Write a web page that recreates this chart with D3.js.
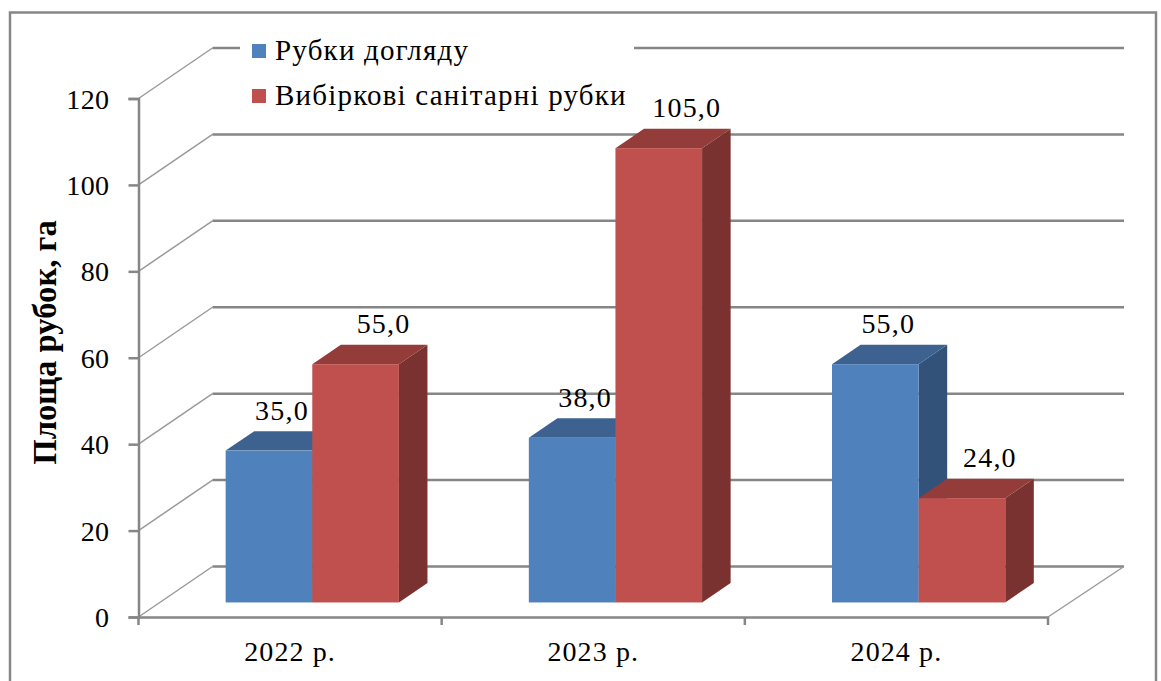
<!DOCTYPE html>
<html>
<head>
<meta charset="utf-8">
<script src="https://cdn.jsdelivr.net/npm/d3@7"></script>
<style>
  html, body { margin: 0; padding: 0; background: #fff; }
  svg { display: block; }
  text { font-family: "Liberation Serif", serif; fill: #000; }
</style>
</head>
<body>
<div id="chart"></div>
<script>
var categories = ['2022 р.', '2023 р.', '2024 р.'];
var seriesNames = ['Рубки догляду', 'Вибіркові санітарні рубки'];
var cuttingCare = [35.0, 38.0, 55.0];
var cuttingSanitary = [55.0, 105.0, 24.0];
var yTicks = [0, 20, 40, 60, 80, 100, 120];
var seriesValues = [cuttingCare, cuttingSanitary];

var colors = [
    {front: '#4f81bd', top: '#3d6290', side: '#335279'},
    {front: '#c0504d', top: '#943c39', side: '#7a3230'}
];
var gridColor = '#868686';
var labelShift = [13, 28];   // labels of the red bars sit further right

var width = 1161, height = 681;
var svg = d3.select('#chart').append('svg')
    .attr('width', width)
    .attr('height', height);

// outer frame runs off the bottom of the picture
svg.append('rect')
    .attr('x', 10).attr('y', 12.5)
    .attr('width', 1146).attr('height', 690)
    .style('fill', '#fff')
    .style('stroke', gridColor)
    .style('stroke-width', '2.5px');

var x = d3.scaleBand().domain(categories).range([138.5, 1048]);
var xInner = d3.scaleBand().domain(d3.range(seriesNames.length))
    .range([0, x.bandwidth()])
    .paddingInner(0)
    .paddingOuter(0.75);
var y = d3.scaleLinear().domain([0, 120]).range([617, 98.5]);

// oblique projection of the 3d box, z 0 = front of floor, z 1 = back wall
var depthX = 74, depthY = 50.5;
var zFront = 0.3, zBack = 0.686;
function px(xv, z) { return xv + z * depthX; }
function py(yv, z) { return yv - z * depthY; }
function pts(list) {
    return list.map(function(p) { return p[0] + ',' + p[1]; }).join(' ');
}
var gridRight = px(x.range()[1], 1) + 2;

// gridlines: diagonal on the side wall, then along the back wall
var grid = svg.append('g');
grid.selectAll('.diag').data(yTicks).enter().append('line')
    .attr('x1', x.range()[0]).attr('y1', function(d) { return y(d); })
    .attr('x2', px(x.range()[0], 1)).attr('y2', function(d) { return py(y(d), 1); })
    .style('stroke', '#9a9a9a')
    .style('stroke-width', '1.5px');
grid.selectAll('.back').data(yTicks).enter().append('line')
    .attr('x1', px(x.range()[0], 1)).attr('y1', function(d) { return py(y(d), 1); })
    .attr('x2', gridRight).attr('y2', function(d) { return py(y(d), 1); })
    .style('stroke', gridColor)
    .style('stroke-width', '2.5px');
// floor, right edge
grid.append('line')
    .attr('x1', x.range()[1]).attr('y1', y(0))
    .attr('x2', gridRight).attr('y2', py(y(0), 1))
    .style('stroke', '#9a9a9a')
    .style('stroke-width', '1.5px');

// legend box hides the top gridline behind it
svg.append('rect')
    .attr('x', 240).attr('y', 30)
    .attr('width', 394).attr('height', 85)
    .style('fill', '#fff');

// bars
var bars = svg.append('g');
categories.forEach(function(cat, i) {
    seriesNames.forEach(function(name, s) {
        var v = seriesValues[s][i];
        var x0 = x(cat) + xInner(s);
        var x1 = x0 + xInner.bandwidth();
        var yT = y(v), yB = y(0) + 0.6;
        var c = colors[s];
        bars.append('polygon')
            .attr('points', pts([
                [px(x1, zFront), py(yT, zFront)], [px(x1, zBack), py(yT, zBack)],
                [px(x1, zBack), py(yB, zBack)], [px(x1, zFront), py(yB, zFront)]
            ]))
            .style('fill', c.side);
        bars.append('polygon')
            .attr('points', pts([
                [px(x0, zFront), py(yT, zFront)], [px(x0, zBack), py(yT, zBack)],
                [px(x1, zBack), py(yT, zBack)], [px(x1, zFront), py(yT, zFront)]
            ]))
            .style('fill', c.top);
        bars.append('rect')
            .attr('x', px(x0, zFront))
            .attr('y', py(yT, zFront))
            .attr('width', x1 - x0)
            .attr('height', yB - yT)
            .style('fill', c.front);
        bars.append('text')
            .attr('x', px(x0, zFront) + (x1 - x0) / 2 + labelShift[s])
            .attr('y', py(yT, zFront) - 31)
            .attr('text-anchor', 'middle')
            .style('font-size', '28px')
            .style('letter-spacing', '1.2px')
            .text(v.toFixed(1).replace('.', ','));
    });
});

// y axis
var yAxis = d3.axisLeft(y).tickValues(yTicks).tickSize(10).tickPadding(19);
var gy = svg.append('g').attr('transform', 'translate(138.5,0)').call(yAxis);
gy.selectAll('.domain, line').style('stroke', gridColor).style('stroke-width', '2.5px');
gy.selectAll('text')
    .attr('dy', '0.34em')
    .style('font-family', '"Liberation Serif", serif')
    .style('font-size', '28px')
    .style('letter-spacing', '0.4px');

// x axis, ticks sit on the category boundaries
var xAxis = d3.axisBottom(x).tickSize(0).tickPadding(24);
var gx = svg.append('g').attr('transform', 'translate(0,617)').call(xAxis);
gx.select('.domain').style('stroke', gridColor).style('stroke-width', '2.5px');
gx.selectAll('text')
    .style('font-family', '"Liberation Serif", serif')
    .style('font-size', '28px')
    .style('letter-spacing', '1.1px');
gx.selectAll('.boundary')
    .data(d3.range(categories.length + 1)).enter().append('line')
    .attr('x1', function(d) { return x.range()[0] + d * x.step(); })
    .attr('x2', function(d) { return x.range()[0] + d * x.step(); })
    .attr('y1', 0).attr('y2', 8)
    .style('stroke', gridColor)
    .style('stroke-width', '2.5px');

// axis title
svg.append('text')
    .attr('transform', 'translate(56,342.5) rotate(-90)')
    .attr('text-anchor', 'middle')
    .style('font-size', '32.7px')
    .style('font-weight', 'bold')
    .text('Площа рубок, га');

// legend
var legend = svg.selectAll('.legend').data(seriesNames).enter().append('g')
    .attr('transform', function(d, i) { return 'translate(252,' + (44 + i * 45) + ')'; });
legend.append('rect')
    .attr('width', 14).attr('height', 14)
    .style('fill', function(d, i) { return colors[i].front; });
legend.append('text')
    .attr('x', 23).attr('y', 15.5)
    .style('font-size', '29px')
    .style('letter-spacing', '1.2px')
    .text(function(d) { return d; });
</script>
</body>
</html>
